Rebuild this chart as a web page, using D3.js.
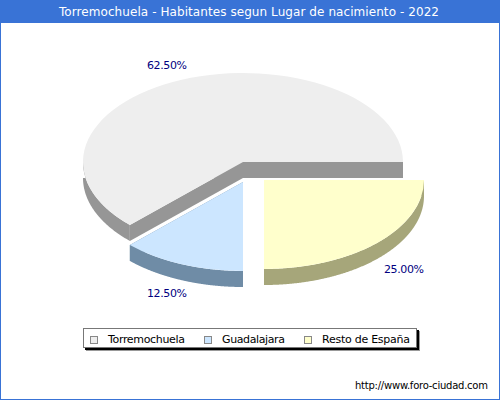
<!DOCTYPE html>
<html>
<head>
<meta charset="utf-8">
<script src="https://cdn.jsdelivr.net/npm/d3@7"></script>
<style>
  html, body { margin: 0; padding: 0; background: #fff; }
  svg { display: block; font-family: "DejaVu Sans", sans-serif; }
</style>
</head>
<body>
<svg id="chart" width="500" height="400"></svg>
<script>
const titleText = 'Torremochuela - Habitantes segun Lugar de nacimiento - 2022';
const footerText = 'http://www.foro-ciudad.com';
const categories = ['Torremochuela', 'Guadalajara', 'Resto de España'];
const values = [62.5, 12.5, 25];
const percentLabels = ['62.50%', '12.50%', '25.00%'];

const topColors = ['#eeeeee', '#cce6ff', '#ffffcc'];
const sideColors = ['#969696', '#6f8ca6', '#a6a67a'];

// layout of the exploded slices, label anchors and legend entries
const sliceCenters = [[243, 162], [243, 182], [264, 180]];
const labelEnds = [[187, 69], [187, 297], [424, 273]];
const legendSwatchX = [90, 204, 304];
const legendTextWidths = [77, 63, 88];
const rx = 160, ry = 89, depth = 16;

const svg = d3.select('#chart');

// frame and title band
svg.append('rect').attr('x', 0.5).attr('y', 0.5).attr('width', 499).attr('height', 399)
  .attr('fill', '#fff').attr('stroke', '#3973d6');
svg.append('rect').attr('width', 500).attr('height', 23).attr('fill', '#3973d6');
svg.append('text').attr('x', 59).attr('y', 16)
  .attr('font-size', 12).attr('fill', '#fff')
  .attr('textLength', 380).attr('lengthAdjust', 'spacing')
  .text(titleText);

const pie = d3.pie().sort(null).startAngle(Math.PI / 2).endAngle(Math.PI / 2 - 2 * Math.PI);
const arcs = pie(values);
const arc = d3.arc().innerRadius(0).outerRadius(1);
const sx = d3.scaleLinear().domain([0, 1]).range([0, rx]);
const sy = d3.scaleLinear().domain([0, 1]).range([0, ry]);
const line = d3.line().x(d => d[0]).y(d => d[1]);

const point = (a, r = 1) => [sx(Math.sin(a) * r), sy(-Math.cos(a) * r)];

arcs.forEach((d, i) => {
  const g = svg.append('g').attr('transform', `translate(${sliceCenters[i]})`);
  const side = sideColors[i];

  // straight walls
  [d.startAngle, d.endAngle].forEach(a => {
    const p = point(a);
    g.append('path')
      .attr('d', line([[0, 0], p, [p[0], p[1] + depth], [0, depth]]) + 'Z')
      .attr('fill', side);
  });

  // rim, only the front half shows
  const rim = d3.range(361)
    .map(k => d.startAngle + (d.endAngle - d.startAngle) * k / 360)
    .filter(a => Math.cos(a) <= 0.0001)
    .map(a => point(a));
  const lower = rim.map(p => [p[0], p[1] + depth]).reverse();
  g.append('path').attr('d', line(rim.concat(lower)) + 'Z').attr('fill', side);

  // top face
  g.append('path')
    .attr('transform', `scale(${rx},${ry})`)
    .attr('d', arc(d))
    .attr('fill', topColors[i]);
});

// percent labels
svg.selectAll('text.pct').data(percentLabels).join('text')
  .attr('class', 'pct')
  .attr('x', (d, i) => labelEnds[i][0] - 40)
  .attr('y', (d, i) => labelEnds[i][1])
  .attr('font-size', 11)
  .attr('fill', '#000080')
  .attr('textLength', 40).attr('lengthAdjust', 'spacing')
  .text(d => d);

// legend
svg.append('rect').attr('x', 86).attr('y', 331).attr('width', 334).attr('height', 20).attr('fill', '#999');
svg.append('rect').attr('x', 85).attr('y', 330).attr('width', 334).attr('height', 20).attr('fill', '#000');
svg.append('rect').attr('x', 83.5).attr('y', 328.5).attr('width', 333).attr('height', 19)
  .attr('fill', '#fff').attr('stroke', '#777');

const items = svg.selectAll('g.item').data(categories).join('g')
  .attr('class', 'item')
  .attr('transform', (d, i) => `translate(${legendSwatchX[i]},0)`);
items.append('rect')
  .attr('x', 0.5).attr('y', 336.5).attr('width', 7).attr('height', 7)
  .attr('fill', (d, i) => topColors[i])
  .attr('stroke', '#888');
items.append('text')
  .attr('x', 18).attr('y', 343)
  .attr('font-size', 11).attr('fill', '#000')
  .attr('textLength', (d, i) => legendTextWidths[i]).attr('lengthAdjust', 'spacing')
  .text(d => d);

svg.append('text').attr('x', 355).attr('y', 389)
  .attr('font-size', 10).attr('fill', '#000')
  .attr('textLength', 133).attr('lengthAdjust', 'spacing')
  .text(footerText);
</script>
</body>
</html>
